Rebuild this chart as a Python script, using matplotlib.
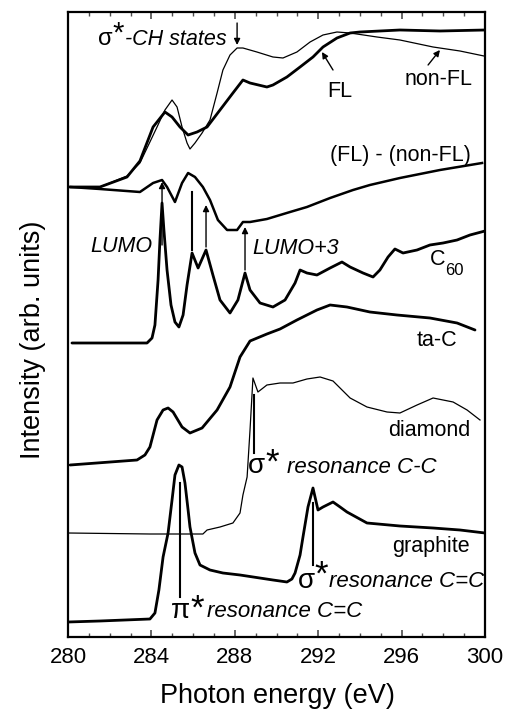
import matplotlib
matplotlib.use("Agg")
import matplotlib.pyplot as plt
from matplotlib.ticker import MultipleLocator

plt.rcParams['font.family'] = ['Liberation Sans', 'DejaVu Sans']

# ---------------- data (photon energy in eV, intensity in arbitrary units) -------------
fl_e = [280.10, 281.53, 282.83, 283.45, 284.08, 284.65, 284.99, 285.37, 285.76, 286.19,
        286.67, 287.29, 287.91, 288.39, 288.73, 289.54, 289.83, 290.50, 291.13, 291.75,
        292.23, 292.90, 293.53, 294.00, 295.92, 297.84, 300.00]
fl_i = [450, 450, 460, 476, 510, 525, 520, 510, 502, 505,
        510, 527, 544, 557, 554, 550, 552, 560, 570, 580,
        590, 599, 604, 605, 607, 606, 607]

nonfl_e = [280.10, 281.53, 282.83, 283.45, 284.27, 284.65, 284.99, 285.23, 285.47, 285.71,
           285.85, 286.09, 286.43, 286.81, 287.15, 287.43, 287.77, 288.11, 288.39, 289.06,
           289.83, 290.31, 290.98, 291.61, 292.23, 292.90, 293.53, 294.82, 295.92, 297.51,
           298.80, 299.95]
nonfl_i = [450, 450, 461, 474, 510, 527, 537, 530, 510, 494,
           488, 494, 504, 517, 544, 567, 582, 589, 589, 585,
           580, 579, 585, 595, 602, 605, 604, 600, 597, 590,
           586, 581]

diff_e = [280.10, 281.53, 283.45, 284.08, 284.51, 284.75, 285.13, 285.47, 285.76, 286.09,
          286.47, 286.81, 287.19, 287.63, 288.11, 288.39, 288.73, 289.54, 290.65, 291.46,
          292.57, 293.67, 294.48, 295.92, 297.84, 299.86]
diff_i = [450, 448, 445, 454, 457, 450, 435, 454, 464, 460,
          450, 437, 417, 407, 407, 415, 415, 418, 425, 430,
          439, 447, 452, 459, 467, 474]

c60_e = [280.19, 283.79, 284.03, 284.17, 284.32, 284.41, 284.51, 284.60, 284.75, 284.94,
         285.13, 285.32, 285.52, 285.71, 285.95, 286.24, 286.62, 286.95, 287.29, 287.77,
         288.15, 288.49, 288.73, 289.21, 289.83, 290.41, 290.89, 291.13, 291.46, 291.94,
         292.57, 293.14, 293.53, 294.15, 294.63, 294.96, 295.35, 295.68, 296.07, 296.74,
         297.36, 297.99, 298.66, 299.28, 300.00]
c60_i = [294, 294, 299, 312, 357, 397, 434, 407, 367, 332,
         315, 310, 322, 352, 384, 369, 387, 362, 337, 324,
         337, 364, 347, 334, 330, 337, 354, 367, 364, 362,
         369, 375, 370, 364, 360, 367, 380, 388, 384, 387,
         392, 394, 397, 402, 406]

tac_e = [280.10, 283.31, 283.69, 283.93, 284.27, 284.56, 284.80, 285.04, 285.47, 285.85,
         286.43, 287.15, 287.77, 288.25, 288.73, 289.54, 290.17, 290.98, 291.94, 292.57,
         293.38, 294.48, 295.78, 297.36, 298.66, 299.52]
tac_i = [172, 177, 182, 190, 217, 227, 229, 225, 210, 204,
         209, 227, 250, 280, 296, 303, 308, 317, 327, 332,
         330, 325, 322, 319, 314, 307]

dia_e = [280.00, 283.93, 286.47, 286.67, 287.29, 287.91, 288.25, 288.39, 288.59, 288.73,
         288.87, 289.11, 289.54, 290.17, 290.79, 291.46, 292.09, 292.71, 293.53, 294.34,
         295.30, 295.92, 296.74, 297.51, 298.47, 299.14, 299.76]
dia_i = [104, 103, 103, 107, 110, 114, 124, 142, 160, 207,
         259, 245, 252, 254, 254, 258, 260, 256, 239, 230,
         225, 224, 232, 239, 235, 227, 217]

gra_e = [280.00, 281.53, 283.93, 284.17, 284.36, 284.56, 284.80, 284.99, 285.13, 285.32,
         285.47, 285.61, 285.76, 285.85, 286.09, 286.33, 286.81, 287.43, 288.25, 289.83,
         290.50, 290.74, 290.89, 291.13, 291.27, 291.51, 291.75, 291.99, 292.23, 292.71,
         293.05, 293.38, 294.34, 295.92, 297.51, 298.80, 300.00]
gra_i = [15, 16, 18, 24, 47, 80, 104, 137, 162, 172,
         170, 154, 127, 110, 84, 72, 67, 64, 62, 57,
         55, 58, 64, 82, 100, 130, 149, 127, 130, 135,
         130, 125, 114, 111, 109, 107, 104]

xticks = [280, 284, 288, 292, 296, 300]

# ---------------- figure ----------------
fig = plt.figure(figsize=(5.07, 7.12), dpi=100)
ax = fig.add_axes([68/507, 75/712, 417/507, 625/712])
ax.set_xlim(280, 300)
ax.set_ylim(0, 625)

thick = dict(color='black', lw=2.0, solid_joinstyle='round', solid_capstyle='round')
thin = dict(color='black', lw=0.9, solid_joinstyle='round')

ax.plot(nonfl_e, nonfl_i, **thin)
ax.plot(fl_e, fl_i, **thick)
ax.plot(diff_e, diff_i, color='black', lw=1.8, solid_joinstyle='round')
ax.plot(c60_e, c60_i, **thick)
ax.plot(tac_e, tac_i, **thick)
ax.plot(dia_e, dia_i, **thin)
ax.plot(gra_e, gra_i, **thick)

# ticks
ax.set_xticks(xticks)
ax.xaxis.set_minor_locator(MultipleLocator(1))
ax.tick_params(axis='x', which='both', direction='in', top=True, bottom=True,
               labelsize=16, pad=7, color='0.3')
ax.tick_params(axis='x', which='major', length=5, width=1.2)
ax.tick_params(axis='x', which='minor', length=3, width=1.0)
ax.set_yticks([])
for s in ax.spines.values():
    s.set_linewidth(1.6)

fig.text(277/507, 1 - 696/712, 'Photon energy (eV)', ha='center', va='center', fontsize=19.5)
fig.text(33/507, 1 - 340/712, 'Intensity (arb. units)', ha='center', va='center',
         rotation=90, fontsize=19.5)

# ---------------- labels ----------------
fs = 15.5
def t(x, y, s, **kw):
    kw.setdefault('fontsize', fs)
    ax.text(x, y, s, va='baseline', ha='left', **kw)

# sigma*-CH states
t(281.44, 592, 'σ', fontsize=17)
t(282.15, 595, '*', fontsize=21)
t(282.75, 592, '-CH states', style='italic')
t(292.57, 476, '(FL) - (non-FL)')
t(292.42, 540, 'FL')
t(296.16, 552, 'non-FL')
t(281.06, 385, 'LUMO', style='italic')
t(288.82, 383, 'LUMO+3', style='italic')
t(297.36, 372, 'C')
t(298.10, 362, '60', fontsize=12)
t(296.74, 291, 'ta-C')
t(295.35, 201, 'diamond')
t(295.54, 85, 'graphite')
# sigma* resonance C-C
t(288.63, 164, 'σ', fontsize=20)
t(289.45, 164, '*', fontsize=25)
t(290.50, 164, 'resonance C-C', style='italic', fontsize=16)
# pi* resonance C=C
t(284.95, 19, 'π', fontsize=20)
t(285.86, 18, '*', fontsize=25)
t(286.66, 20, 'resonance C=C', style='italic', fontsize=16)
# sigma* resonance C=C
t(291.03, 49, 'σ', fontsize=20)
t(291.83, 52, '*', fontsize=25)
t(292.52, 50, 'resonance C=C', style='italic', fontsize=16)

# ---------------- arrows and marker lines ----------------
arr = dict(arrowstyle='-|>', lw=1.0, color='black', mutation_scale=9, shrinkA=0, shrinkB=0)
def arrow(x0, y0, x1, y1):
    ax.annotate('', xy=(x1, y1), xytext=(x0, y0), arrowprops=arr)

arrow(288.11, 614, 288.11, 592)      # sigma*-CH
arrow(292.71, 567, 292.18, 585)      # FL
arrow(297.27, 572, 297.84, 587)      # non-FL
arrow(284.51, 392, 284.51, 455)      # LUMO
arrow(286.62, 390, 286.62, 432)
arrow(288.49, 367, 288.49, 410)      # LUMO+3
ax.plot([285.95, 285.95], [387, 445], color='black', lw=1.5)
ax.plot([288.92, 288.92], [242, 184], color='black', lw=1.5)
ax.plot([285.37, 285.37], [154, 40], color='black', lw=1.5)
ax.plot([291.75, 291.75], [134, 72], color='black', lw=1.5)

fig.savefig('out.png', dpi=100)
